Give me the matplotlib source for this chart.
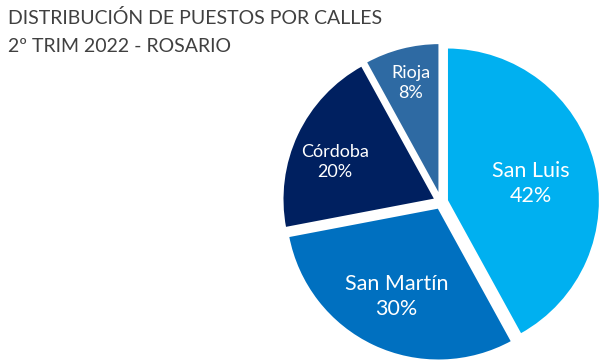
import numpy as np
import matplotlib
matplotlib.use("Agg")
import matplotlib.pyplot as plt

plt.rcParams['font.family'] = ['Lato', 'DejaVu Sans']

calles = ["San Luis", "San Martín", "Córdoba", "Rioja"]
porcentajes = [42, 30, 20, 8]
colores = ["#00B0F0", "#0070C0", "#002060", "#2E6AA3"]
tam_letra = [15.5, 15.5, 13, 13]
dist_label = [0.56, 0.64, 0.70, 0.76]
giro_label = [-3, 0, 5, 0]  # degrees, nudges label around the slice

fig = plt.figure(figsize=(6, 3.6), dpi=100)
fig.patch.set_facecolor("white")

# square axes centred on the pie (pixel centre ~ 441, 202)
lim = 1.15
side = 153 * lim * 2
cx, cy = 441, 360 - 202
ax = fig.add_axes([(cx - side / 2) / 600, (cy - side / 2) / 360, side / 600, side / 360])

wedges, _ = ax.pie(porcentajes, colors=colores, startangle=90, counterclock=False,
                   explode=[0.04] * len(porcentajes), radius=1.0,
                   wedgeprops=dict(edgecolor="white", linewidth=1.5))
for w in wedges:
    w.set_clip_on(False)

ax.set_xlim(-lim, lim)
ax.set_ylim(-lim, lim)
ax.set_aspect("equal")
ax.axis("off")

for w, nombre, pct, fs, d, g in zip(wedges, calles, porcentajes, tam_letra, dist_label, giro_label):
    ang = np.deg2rad((w.theta1 + w.theta2) / 2 + g)
    x, y = w.center
    ax.text(x + d * np.cos(ang), y + d * np.sin(ang), f"{nombre}\n{pct}%",
            ha="center", va="center", color="white", fontsize=fs, linespacing=1.3)

fig.text(0.013, 0.95, "DISTRIBUCIÓN DE PUESTOS POR CALLES", fontsize=14,
         color="#404040", ha="left", va="center")
fig.text(0.013, 0.87, "2º TRIM 2022 - ROSARIO", fontsize=14,
         color="#404040", ha="left", va="center")

fig.savefig("out.png", dpi=100, facecolor="white")
